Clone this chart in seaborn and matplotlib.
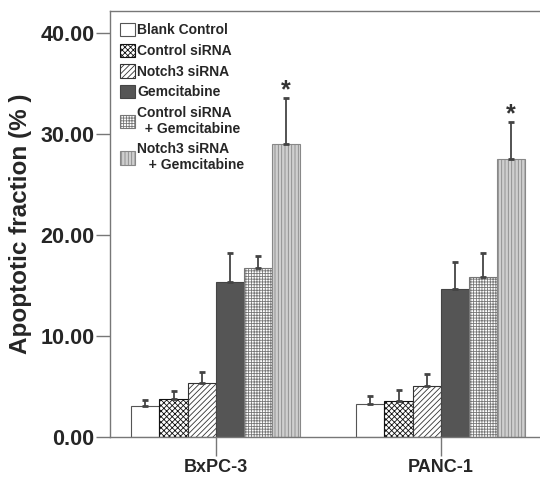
import pandas as pd
import seaborn as sns
import matplotlib.pyplot as plt
from matplotlib.patches import Patch

# data
cell_lines = ['BxPC-3', 'PANC-1']
groups = ['Blank Control', 'Control siRNA', 'Notch3 siRNA', 'Gemcitabine',
          'Control siRNA\n  + Gemcitabine', 'Notch3 siRNA\n   + Gemcitabine']
bxpc3_mean = [3.1, 3.8, 5.4, 15.4, 16.7, 29.0]
bxpc3_err = [0.6, 0.8, 1.0, 2.8, 1.2, 4.6]
panc1_mean = [3.3, 3.6, 5.1, 14.7, 15.9, 27.5]
panc1_err = [0.8, 1.1, 1.1, 2.6, 2.3, 3.7]
y_ticks = [0, 10, 20, 30, 40]

faces = ['white', 'white', 'white', '#555555', 'white', '#cfcfcf']
edges = ['#555555', '#111111', '#333333', '#444444', '#777777', '#888888']
hatches = [None, 'xxxxxx', '//////', None, '++++++', '|||||']

rows = []
for i, g in enumerate(groups):
    rows.append({'line': cell_lines[0], 'group': g, 'value': bxpc3_mean[i], 'err': bxpc3_err[i]})
    rows.append({'line': cell_lines[1], 'group': g, 'value': panc1_mean[i], 'err': panc1_err[i]})
df = pd.DataFrame(rows)

sns.set_style('white')
plt.rcParams['font.family'] = ['Liberation Sans', 'DejaVu Sans']
plt.rcParams['hatch.linewidth'] = 0.6

fig = plt.figure(figsize=(5.4, 4.79), dpi=100)
ax = fig.add_axes([0.2037, 0.0877, 0.80, 0.889])

sns.barplot(data=df, x='line', y='value', hue='group', hue_order=groups,
            order=cell_lines, errorbar=None, width=0.75, ax=ax, legend=False)

bar_conts = list(ax.containers)
for k, cont in enumerate(bar_conts):
    for j, bar in enumerate(cont):
        bar.set_facecolor(faces[k])
        bar.set_edgecolor(edges[k])
        bar.set_linewidth(0.8)
        if hatches[k]:
            bar.set_hatch(hatches[k])
        sub = df[(df.group == groups[k]) & (df.line == cell_lines[j])].iloc[0]
        cx = bar.get_x() + bar.get_width() / 2
        ax.errorbar(cx, sub.value, yerr=[[0], [sub.err]], fmt='none',
                    ecolor='#444444', elinewidth=1.3, capsize=2.5, capthick=2)
        if k == 5:
            ax.text(cx, sub.value + sub.err + 0.1, '*', ha='center', va='baseline',
                    fontsize=18, fontweight='bold', color='#333333')

ax.set_xlim(-0.47, 1.45)
ax.set_ylim(0, 42.2)
ax.set_yticks(y_ticks)
ax.set_yticklabels([f'{v:.2f}' for v in y_ticks], fontsize=15.5, fontweight='bold')
ax.set_xticks([0, 1])
ax.set_xticklabels(cell_lines, fontsize=13, fontweight='bold')
ax.set_xlabel('')
ax.set_ylabel('Apoptotic fraction (% )', fontsize=17.5, fontweight='bold', labelpad=6)

for s in ['left', 'bottom', 'top']:
    ax.spines[s].set_color('#777777')
    ax.spines[s].set_linewidth(1.0)
ax.spines['right'].set_visible(False)
ax.tick_params(axis='y', direction='out', length=10, width=1, color='#777777', left=True, pad=1)
ax.tick_params(axis='x', direction='out', length=14, width=1, color='#777777', bottom=True, pad=2)

handles = [Patch(facecolor=faces[k], edgecolor=edges[k], hatch=hatches[k], linewidth=0.8)
           for k in range(len(groups))]
leg = ax.legend(handles, groups, loc='upper left', bbox_to_anchor=(0.0, 0.995),
                frameon=False, handlelength=1.1, handleheight=1.1, handletextpad=0.15,
                labelspacing=0.45, borderaxespad=0.3,
                prop={'size': 10, 'weight': 'bold'})

fig.savefig('out.png', dpi=100)
